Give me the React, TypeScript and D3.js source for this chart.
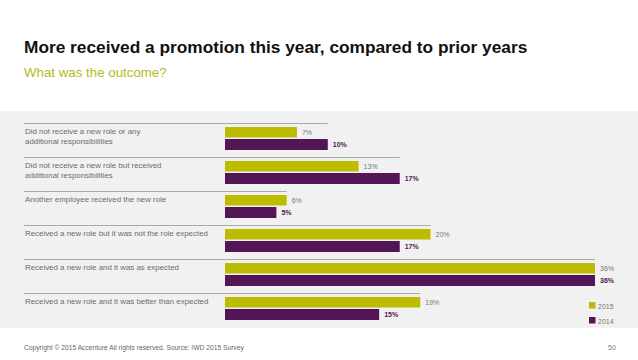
import React from "react";
import * as d3 from "d3";

const categories = [
  ["Did not receive a new role or any", "additional responsibilities"],
  ["Did not receive a new role but received", "additional responsibilities"],
  ["Another employee received the new role"],
  ["Received a new role but it was not the role expected"],
  ["Received a new role and it was as expected"],
  ["Received a new role and it was better than expected"],
];
const values2015 = [7, 13, 6, 20, 36, 19];
const values2014 = [10, 17, 5, 17, 36, 15];
const seriesNames = ["2015", "2014"];

const W = 638;
const H = 360;
const LIME = "#bcbc00";
const PURPLE = "#541556";
const FONT = "'Liberation Sans', Arial, Helvetica, sans-serif";

export default function App() {
  const x = d3.scaleLinear().domain([0, 36]).range([225, 595]);
  const y = d3
    .scaleBand<number>()
    .domain(d3.range(categories.length))
    .range([123, 123 + 34 * categories.length])
    .paddingInner(0)
    .paddingOuter(0);

  return (
    <svg
      width={W}
      height={H}
      style={{ position: "absolute", left: 0, top: 0, background: "#fff" }}
      fontFamily={FONT}
    >
      <rect x={0} y={0} width={W} height={H} fill="#fff" />
      <text x={24} y={53} fontSize={17.3} fontWeight="bold" fill="#111">
        More received a promotion this year, compared to prior years
      </text>
      <text x={24} y={77} fontSize={13.3} fill="#b5b81c">
        What was the outcome?
      </text>
      <rect x={0} y={111} width={W} height={217} fill="#f1f1f1" />

      {categories.map((lines, i) => {
        const y0 = y(i)!;
        const maxV = Math.max(values2015[i], values2014[i]);
        return (
          <g key={i}>
            <line
              x1={24}
              x2={x(maxV)}
              y1={y0 + 0.5}
              y2={y0 + 0.5}
              stroke="#a9a9a9"
              strokeWidth={1}
            />
            {lines.map((t, j) => (
              <text
                key={j}
                x={25}
                y={y0 + 11 + j * 10}
                fontSize={7.9}
                fill="#6b6b6b"
              >
                {t}
              </text>
            ))}
            <rect
              x={x(0)}
              y={y0 + 4}
              width={x(values2015[i]) - x(0)}
              height={10.5}
              fill={LIME}
            />
            <rect
              x={x(0)}
              y={y0 + 16}
              width={x(values2014[i]) - x(0)}
              height={11}
              fill={PURPLE}
            />
            <text
              x={x(values2015[i]) + 5}
              y={y0 + 11.5}
              fontSize={7}
              fill="#777"
            >
              {values2015[i]}%
            </text>
            <text
              x={x(values2014[i]) + 5}
              y={y0 + 24}
              fontSize={7}
              fontWeight="bold"
              fill={PURPLE}
            >
              {values2014[i]}%
            </text>
          </g>
        );
      })}

      {seriesNames.map((s, k) => (
        <g key={s}>
          <rect
            x={589}
            y={302 + k * 15}
            width={6.5}
            height={6.5}
            fill={k === 0 ? LIME : PURPLE}
          />
          <text x={598} y={308.5 + k * 15} fontSize={7} fill="#777">
            {s}
          </text>
        </g>
      ))}

      <text x={24} y={350} fontSize={6.7} fill="#666">
        Copyright © 2015 Accenture All rights reserved. Source: IWD 2015 Survey
      </text>
      <text x={608} y={350} fontSize={7} fill="#777">
        50
      </text>
    </svg>
  );
}
